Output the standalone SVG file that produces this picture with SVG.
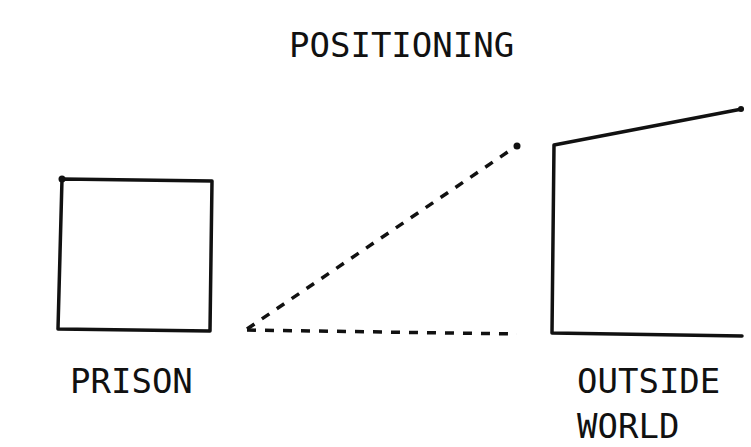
<svg xmlns="http://www.w3.org/2000/svg" width="751" height="447" viewBox="0 0 751 447">
<style>
text{font-family:"DejaVu Sans Mono","Liberation Mono",monospace;font-size:34px;fill:#111}
.s{fill:none;stroke:#111;stroke-width:3.5;stroke-linecap:round;stroke-linejoin:round}
.d{fill:none;stroke:#111;stroke-width:3.5;stroke-dasharray:9 9}
</style>
<rect width="751" height="447" fill="#fff"/>
<text x="289" y="57">POSITIONING</text>
<g id="prison">
<path class="s" d="M62,179 L212,181 L210,331 L58,329 Z"/>
<circle cx="62" cy="179" r="3.5" fill="#111"/>
<text x="70" y="393">PRISON</text>
</g>
<g id="outside-world">
<path class="s" d="M742,109 L554,145 L552,333 L742,336"/>
<circle cx="741" cy="109" r="3" fill="#111"/>
<text x="577" y="393">OUTSIDE</text>
<text x="577" y="438">WORLD</text>
</g>
<g id="connectors">
<line class="d" x1="247" y1="329" x2="518" y2="145"/>
<line class="d" x1="247" y1="330" x2="517" y2="334" stroke-dasharray="8 10"/>
<circle cx="517" cy="146" r="3.5" fill="#111"/>
</g>
</svg>
